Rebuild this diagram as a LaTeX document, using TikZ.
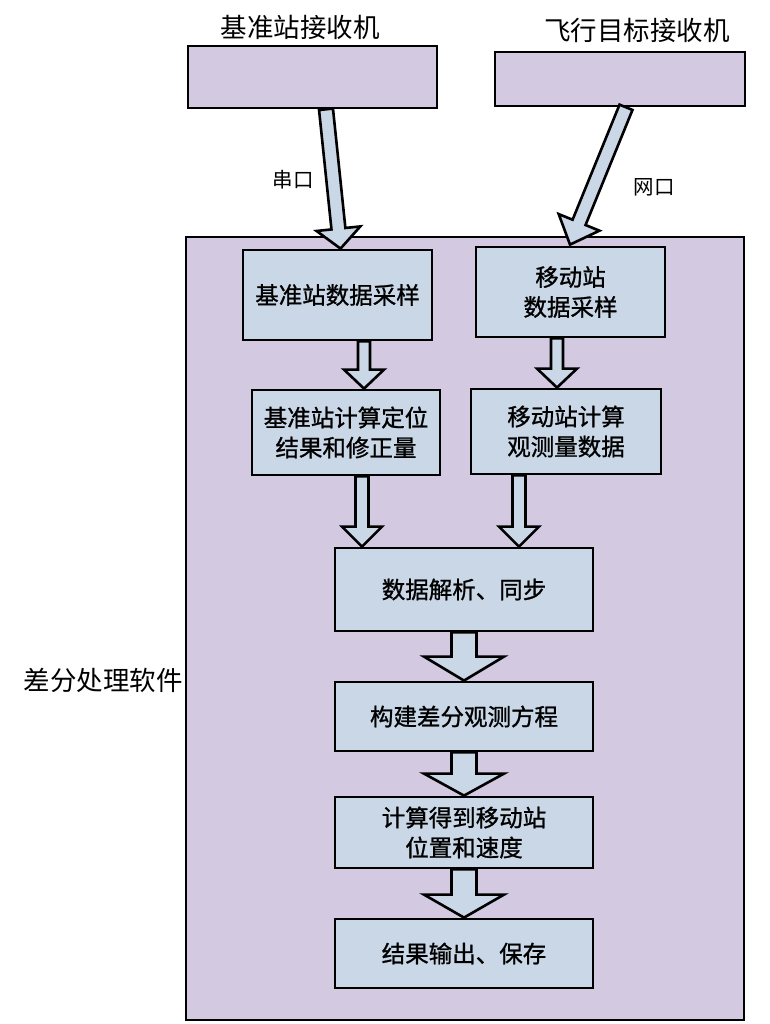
\documentclass[tikz,border=0pt]{standalone}
\usepackage{fontspec}
\newfontfamily\cjk{Noto Sans CJK SC}
\newfontfamily\cjkb[FakeBold=1]{Noto Sans CJK SC}
\usetikzlibrary{calc}
\definecolor{lav}{RGB}{211,201,224}
\definecolor{boxblue}{RGB}{201,215,230}
\newcommand\blockarrow[5]{% S, T, shaft half, head half, head length
  \coordinate (bahead) at ($(#2)!#5!(#1)$);
  \draw[barrow] ($(#1)!#3!90:(#2)$) -- ($(bahead)!#3!90:(#2)$) -- ($(bahead)!#4!90:(#2)$)
    -- (#2) -- ($(bahead)!#4!-90:(#2)$) -- ($(bahead)!#3!-90:(#2)$) -- ($(#1)!#3!-90:(#2)$) -- cycle;
}
\begin{document}
\begin{tikzpicture}[x=1pt,y=-1pt,
  recv/.style={draw=black,line width=2.6pt,fill=lav,inner sep=0pt},
  proc/.style={draw=black,line width=2.8pt,fill=boxblue,inner sep=0pt,align=center,
    font=\cjkb\fontsize{23.5}{30}\selectfont},
  outer/.style={draw=black,line width=2.6pt,fill=lav,inner sep=0pt},
  lbl/.style={font=\cjk\fontsize{26.5}{30}\selectfont,inner sep=0pt},
  slbl/.style={font=\cjk\fontsize{20.5}{24}\selectfont,inner sep=0pt},
  barrow/.style={draw=black,line width=2.6pt,fill=boxblue,line join=miter}]
\useasboundingbox (0,0) rectangle (770,1024);
\fill[white] (0,0) rectangle (770,1024);
% receivers
\node[recv,minimum width=249pt,minimum height=62pt] (r1) at (312.5,77) {};
\node[recv,minimum width=250pt,minimum height=54pt] (r2) at (620,79) {};
\node[lbl] (r1l) at (300,27) {基准站接收机};
\node[lbl] (r2l) at (637,30) {飞行目标接收机};
% outer software box
\node[outer,minimum width=558pt,minimum height=783pt] (sw) at (465,628.5) {};
\node[lbl,anchor=east] (swl) at (183,680) {差分处理软件};
% process boxes
\node[proc,minimum width=189pt,minimum height=90pt] (A) at (337.5,295) {基准站数据采样};
\node[proc,minimum width=189pt,minimum height=90pt] (B) at (570.5,292) {移动站\\数据采样};
\node[proc,minimum width=188pt,minimum height=85pt] (C) at (346,432.5) {基准站计算定位\\结果和修正量};
\node[proc,minimum width=190pt,minimum height=85pt] (D) at (566,431.5) {移动站计算\\观测量数据};
\node[proc,minimum width=258pt,minimum height=83pt] (E) at (464,589.5) {数据解析、同步};
\node[proc,minimum width=258pt,minimum height=69pt] (F) at (464,716.5) {构建差分观测方程};
\node[proc,minimum width=258pt,minimum height=71pt] (G) at (464,832.5) {计算得到移动站\\位置和速度};
\node[proc,minimum width=258pt,minimum height=69pt] (H) at (464,953.5) {结果输出、保存};
% arrow end points
\coordinate (s1) at ($(r1.south)+(13.5,0)$);
\coordinate (t1) at ($(A.north)+(3,0)$);
\coordinate (s2) at ($(r2.south)+(6,0)$);
\coordinate (t2) at ($(B.north)+(-0.5,-1)$);
\coordinate (sAC) at ($(A.south)+(26.5,0)$);
\coordinate (tAC) at ($(C.north)+(18,0)$);
\coordinate (sBD) at ($(B.south)+(-13.5,0)$);
\coordinate (tBD) at ($(D.north)+(-9,0)$);
\coordinate (sCE) at ($(C.south)+(16,0)$);
\coordinate (tCE) at ($(E.north)+(-102,0)$);
\coordinate (sDE) at ($(D.south)+(-47,0)$);
\coordinate (tDE) at ($(E.north)+(55,0)$);
\blockarrow{s1}{t1}{7pt}{22pt}{20pt}
\blockarrow{s2}{t2}{7pt}{22pt}{24pt}
\blockarrow{sAC}{tAC}{6pt}{20pt}{19pt}
\blockarrow{sBD}{tBD}{6pt}{20pt}{19pt}
\blockarrow{sCE}{tCE}{6.5pt}{20pt}{20pt}
\blockarrow{sDE}{tDE}{6.5pt}{20pt}{20pt}
\blockarrow{E.south}{F.north}{12.5pt}{40pt}{24pt}
\blockarrow{F.south}{G.north}{12.5pt}{40pt}{22pt}
\blockarrow{G.south}{H.north}{12.5pt}{40pt}{23pt}
% connector labels
\node[slbl] (l1) at (293,180) {串口};
\node[slbl] (l2) at (654,187) {网口};
\end{tikzpicture}
\end{document}
